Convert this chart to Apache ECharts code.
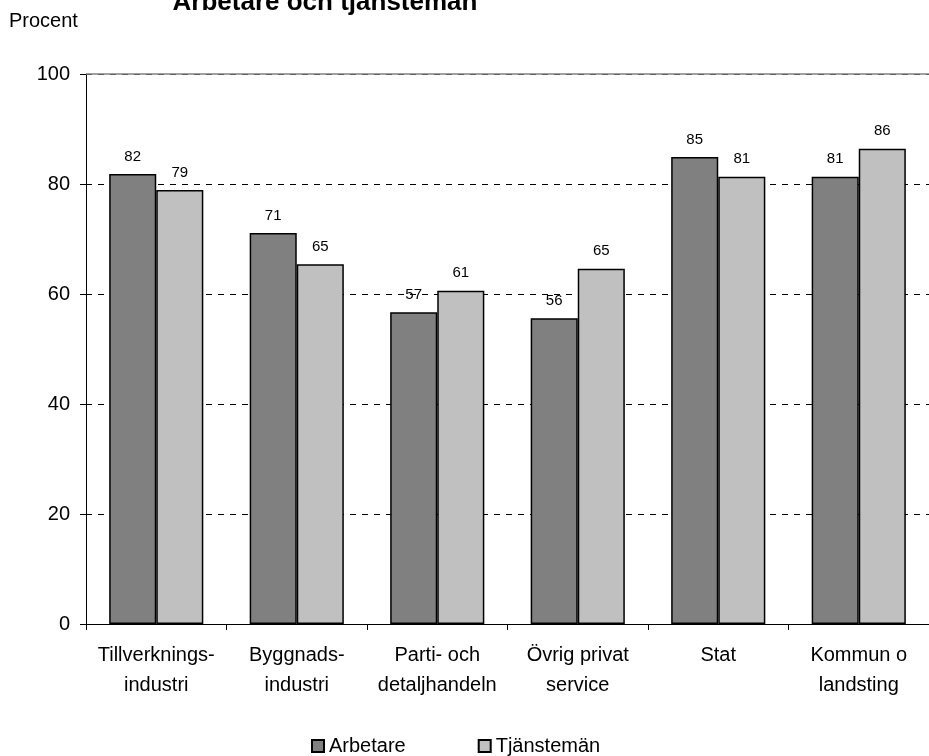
<!DOCTYPE html>
<html><head><meta charset="utf-8">
<script src="https://cdn.jsdelivr.net/npm/echarts@6/dist/echarts.min.js"></script>
<style>html,body{margin:0;padding:0;background:#fff}#c{width:929px;height:756px}</style>
</head><body><div id="c"></div>
<script>
const categories = ['Tillverknings-\nindustri', 'Byggnads-\nindustri', 'Parti- och\ndetaljhandeln', 'Övrig privat\nservice', 'Stat', 'Kommun o\nlandsting'];
const arbetare = [81.8, 71.1, 56.7, 55.6, 84.9, 81.3];
const tjansteman = [78.9, 65.4, 60.6, 64.6, 81.3, 86.4];
const seriesNames = ['Arbetare', 'Tjänstemän'];
const yTicks = {min: 0, max: 100, interval: 20};

const chart = echarts.init(document.getElementById('c'));
const font = 'Liberation Sans, Arial, sans-serif';
const labelCfg = {show: true, position: 'top', distance: 10, color: '#000', fontSize: 15, fontFamily: font, formatter: p => Math.round(p.value)};
chart.setOption({
  animation: false,
  textStyle: {fontFamily: font},
  title: {text: 'Arbetare och tjänstemän', left: 320, top: -15, textAlign: 'center', textStyle: {fontSize: 26, fontWeight: 'bold', color: '#000', fontFamily: font}},
  graphic: [{type: 'text', left: 9, top: 11, style: {text: 'Procent', fontSize: 20, fill: '#000', fontFamily: font}}],
  grid: {left: 86, right: 0, top: 74, bottom: 132},
  legend: {bottom: -5, left: 306, itemGap: 72, itemWidth: 12, itemHeight: 12, icon: 'rect',
    textStyle: {fontSize: 20, color: '#000', fontFamily: font}, data: seriesNames},
  xAxis: {type: 'category', data: categories,
    axisLine: {lineStyle: {color: '#000', width: 1}},
    axisTick: {show: true, length: 6, lineStyle: {color: '#000'}},
    axisLabel: {fontSize: 20, color: '#000', margin: 16, lineHeight: 30, interval: 0, fontFamily: font}},
  yAxis: {type: 'value', min: yTicks.min, max: yTicks.max, interval: yTicks.interval,
    axisLine: {show: true, lineStyle: {color: '#000'}},
    axisTick: {show: true, length: 6, lineStyle: {color: '#000'}},
    axisLabel: {fontSize: 20, color: '#000', margin: 16, fontFamily: font},
    splitLine: {show: true, lineStyle: {color: '#000', type: [6, 6], width: 1}}},
  series: [
    {name: seriesNames[0], type: 'bar', data: arbetare, barGap: '0%', barCategoryGap: '33%',
     itemStyle: {color: '#808080', borderColor: '#000', borderWidth: 1.5}, label: labelCfg,
     markLine: {silent: true, symbol: 'none', label: {show: false}, lineStyle: {color: '#808080', type: 'solid', width: 1.5}, data: [{yAxis: 100}]}},
    {name: seriesNames[1], type: 'bar', data: tjansteman,
     itemStyle: {color: '#c0c0c0', borderColor: '#000', borderWidth: 1.5}, label: labelCfg}
  ]
});
</script></body></html>
